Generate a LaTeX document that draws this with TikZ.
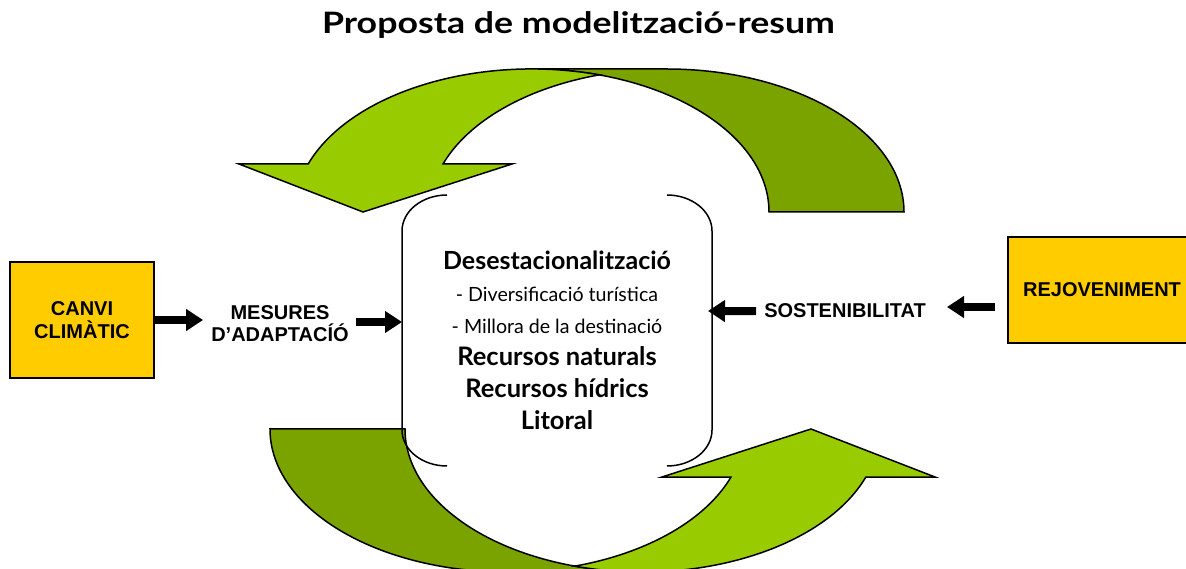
\documentclass[tikz,border=0pt]{standalone}
\usepackage{fontspec}
\setmainfont{Lato}
\newfontfamily\boxfont{Liberation Sans}
\usetikzlibrary{arrows.meta}

\definecolor{leafdark}{HTML}{7BA300}
\definecolor{leaflight}{HTML}{99CC00}
\definecolor{boxyellow}{HTML}{FFCC00}

\tikzset{
  leafline/.style={draw=black, line width=1.5pt, line join=miter},
  yellowbox/.style={draw=black, line width=1.5pt, fill=boxyellow, align=center,
    font=\boxfont\bfseries\fontsize{20}{23}\selectfont, inner sep=0pt},
  capslabel/.style={align=center, inner sep=0pt, font=\boxfont\bfseries\fontsize{20}{22}\selectfont},
  fatarrow/.style={line width=8pt, -{Triangle[length=17pt,width=21pt]}},
  bracket/.style={line width=1.5pt},
}

% one curved arrow: dark back band, light front band with head
\newcommand\bentarrow{%
  \draw[leafline, fill=leafdark] (769,356) -- (904,356)
    arc[start angle=0, end angle=90, x radius=237.4, y radius=143] -- (531.6,499)
    arc[start angle=90, end angle=0, x radius=237.4, y radius=143] -- cycle;
  \draw[leafline, fill=leaflight] (239,404) -- (363,356) -- (512,404) -- (443,404)
    arc[start angle=160.4, end angle=106.5, x radius=237.4, y radius=143]
    arc[start angle=73.5, end angle=160.4, x radius=237.4, y radius=143] -- cycle;
}

\begin{document}
\begin{tikzpicture}[x=1pt, y=1pt]
  \useasboundingbox (0,0) rectangle (1186,568);
  \clip (0,0) rectangle (1186,568);

  \node[anchor=base, inner sep=0pt,
    font=\bfseries\fontsize{29.5}{34}\selectfont\addfontfeature{FakeStretch=1.21}] (title) at (578.5,534)
    {Proposta de modelització-resum};

  % curved arrows
  \bentarrow
  \begin{scope}[rotate around={180:(587,247.5)}]
    \bentarrow
  \end{scope}

  % double bracket round the core text
  \draw[bracket] (447,373) arc[start angle=90, end angle=180, x radius=45, y radius=36]
    -- (402,138) arc[start angle=180, end angle=270, x radius=45, y radius=36];
  \draw[bracket] (667,373) arc[start angle=90, end angle=0, x radius=45, y radius=36]
    -- (712,138) arc[start angle=0, end angle=-90, x radius=45, y radius=36];

  \node[align=center, inner sep=0pt, font=\fontsize{20}{32}\selectfont] (core) at (557,227.5) {%
    {\bfseries\fontsize{25}{32}\selectfont Desestacionalització}\\
    {\fontsize{19.6}{32}\selectfont - Diversificació turística}\\
    {\fontsize{19.6}{32}\selectfont - Millora de la destinació}\\
    {\bfseries\fontsize{25.5}{32}\selectfont Recursos naturals}\\
    {\bfseries\fontsize{25.5}{32}\selectfont Recursos hídrics}\\
    {\bfseries\fontsize{25.5}{32}\selectfont Litoral}};

  \node[yellowbox, minimum width=144pt, minimum height=116pt] (canvi) at (82,248) {CANVI\\CLIMÀTIC};
  \node[capslabel] (mesures) at (280,244) {MESURES\\D’ADAPTACÍÓ};
  \node[capslabel, anchor=base] (sosten) at (845,250) {SOSTENIBILITAT};
  \node[yellowbox, minimum width=188pt, minimum height=106pt] (rejov) at (1102,278) {REJOVENIMENT};

  \coordinate (inL) at (402,246);
  \coordinate (inR) at (708,257);
  \coordinate (fromR) at (995,261);
  \coordinate (toS) at (947,261);

  \draw[fatarrow, shorten >=8pt] (canvi.east) -- (canvi.east -| mesures.west);
  \draw[fatarrow, shorten <=7pt] (mesures.east |- inL) -- (inL);
  \draw[fatarrow, shorten <=8pt] (sosten.west) -- (inR);
  \draw[fatarrow] (fromR) -- (toS);
\end{tikzpicture}
\end{document}
